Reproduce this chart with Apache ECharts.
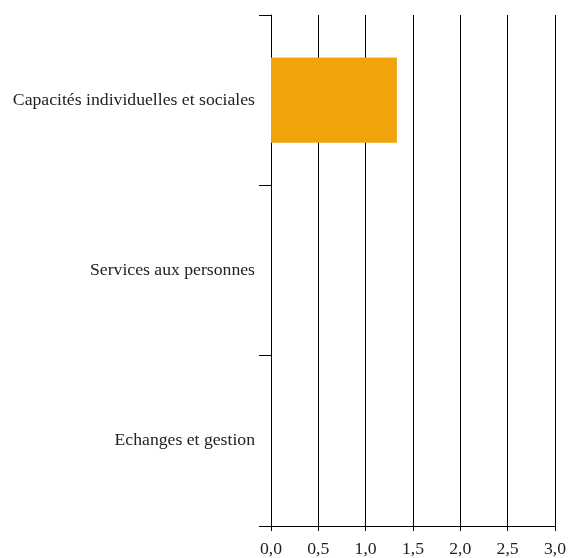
<!DOCTYPE html>
<html>
<head>
<meta charset="utf-8">
<script src="https://cdn.jsdelivr.net/npm/echarts@6/dist/echarts.min.js"></script>
<style>
  html, body { margin: 0; padding: 0; background: #fff; }
  #chart { width: 569px; height: 558px; }
</style>
</head>
<body>
<div id="chart"></div>
<script>
const categories = ["Capacités individuelles et sociales", "Services aux personnes", "Echanges et gestion"];
const values = [1.33, null, null];

const chart = echarts.init(document.getElementById("chart"));

chart.setOption({
    animation: false,
    textStyle: { fontFamily: "Liberation Serif" },
    grid: { left: 271, right: 13, top: 15, bottom: 31 },
    xAxis: {
        type: "value",
        min: 0,
        max: 3,
        interval: 0.5,
        axisLine: { show: true, lineStyle: { color: "#000", width: 1 } },
        axisTick: { show: true, length: 5, lineStyle: { color: "#000" } },
        axisLabel: {
            color: "#222",
            fontSize: 17.7,
            margin: 14,
            formatter: v => v.toFixed(1).replace(".", ",")
        },
        splitLine: { show: true, lineStyle: { color: "#000", width: 1 } }
    },
    yAxis: {
        type: "category",
        data: categories,
        inverse: true,
        axisLine: { show: true, lineStyle: { color: "#000", width: 1 } },
        axisTick: { show: true, length: 12, lineStyle: { color: "#000" } },
        axisLabel: { color: "#222", fontSize: 17.7, margin: 16, padding: [0, 0, 6, 0] },
        splitLine: { show: false }
    },
    series: [
        {
            type: "bar",
            data: values,
            barWidth: "50%",
            itemStyle: { color: "#F0A30A" }
        }
    ]
});
</script>
</body>
</html>
